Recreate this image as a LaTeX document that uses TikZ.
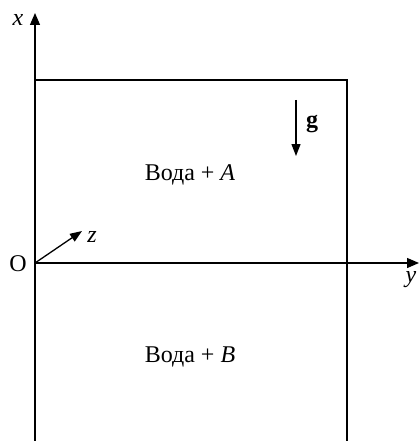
\documentclass[tikz,border=0pt]{standalone}
\usepackage{fontspec}
\setmainfont{Liberation Serif}
\usetikzlibrary{arrows.meta}
\begin{document}
\begin{tikzpicture}[x=1pt,y=-1pt,
  axis/.style={line width=1.3pt,-{Triangle[length=12pt,width=10pt]}},
  vec/.style={line width=1.3pt,-{Triangle[length=12pt,width=9pt]}},
  frame/.style={line width=1.8pt},
  lbl/.style={inner sep=0pt,font=\fontsize{24}{28}\selectfont}]
\useasboundingbox (0,0) rectangle (419,441);
\coordinate (O) at (35,263);
\coordinate (xt) at (35,13);
\coordinate (yt) at (419,263);
\coordinate (zt) at (82,231);
\coordinate (bl) at (35,441);
\coordinate (tl) at (35,80);
\coordinate (tr) at (347,80);
\coordinate (br) at (347,441);
\coordinate (gs) at (296,100);
\coordinate (ge) at (296,156);
\draw[frame] (bl) -- (tl) -- (tr) -- (br);
\draw[frame] (O) -- (347,263);
\draw[axis] (bl) -- (xt);
\draw[axis] (O) -- (yt);
\draw[vec] (O) -- (zt);
\draw[vec] (gs) -- (ge);
\node[lbl] (xl) at (18,20) {\itshape x};
\node[lbl] (yl) at (411,280) {\itshape y};
\node[lbl] (zl) at (92,237) {\itshape z};
\node[lbl] (ol) at (18,264) {O};
\node[lbl] (gl) at (312,124) {\bfseries g};
\node[lbl] (ta) at (190,175) {Вода + \textit{A}};
\node[lbl] (tb) at (190,357) {Вода + \textit{B}};
\end{tikzpicture}
\end{document}
